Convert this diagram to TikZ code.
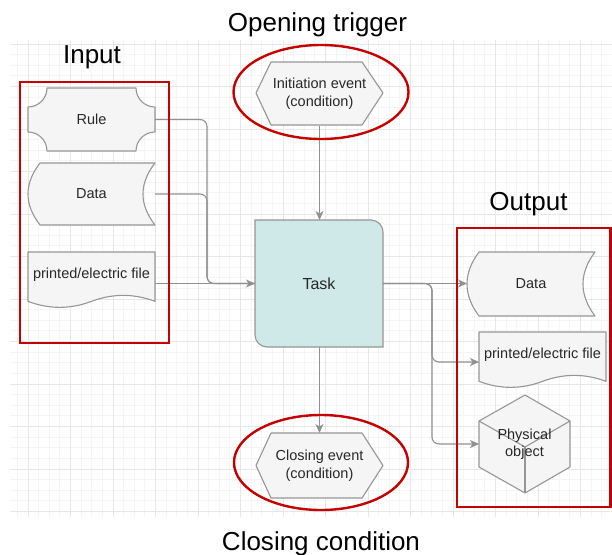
\documentclass[tikz,border=0pt]{standalone}
\usepackage{fontspec}
\setmainfont{Liberation Sans}
\usetikzlibrary{arrows.meta,calc}

\definecolor{gridminor}{RGB}{245,245,245}
\definecolor{gridmajor}{RGB}{231,231,231}
\definecolor{shapefill}{RGB}{245,245,245}
\definecolor{shapeline}{RGB}{150,150,150}
\definecolor{linkgray}{RGB}{145,145,145}
\definecolor{taskfill}{RGB}{207,232,232}
\definecolor{markred}{RGB}{196,0,0}
\definecolor{textgray}{RGB}{40,40,40}

\tikzset{
  outline/.style={draw=shapeline, fill=shapefill, line width=1.1pt, line join=round},
  lbl/.style={inner sep=0pt, outer sep=0pt, align=center, text=textgray,
    font=\fontsize{14.5}{18}\selectfont},
  plainlink/.style={draw=linkgray, line width=1.1pt, rounded corners=7pt},
  link/.style={plainlink, -{Stealth[length=9pt,width=8pt,inset=2.5pt]}},
  redmark/.style={draw=markred, line width=2.4pt},
  title/.style={font=\fontsize{26}{30}\selectfont, inner sep=0pt, anchor=base, text=black},
  gridthin/.style={draw=gridminor, line width=0.8pt},
  gridthick/.style={draw=gridmajor, line width=0.8pt}
}

\begin{document}
\begin{tikzpicture}[x=1pt, y=-1pt]
\useasboundingbox (0,0) rectangle (612,554);
\fill[white] (0,0) rectangle (612,554);

% background grid
\foreach \n in {-1,...,54} {
  \pgfmathsetmacro\gx{28+10.625*\n}
  \draw[gridthin] (\gx,40) -- (\gx,517);
}
\foreach \n in {-40,...,4} {
  \pgfmathsetmacro\gy{469+10.625*\n}
  \draw[gridthin] (10,\gy) -- (612,\gy);
}
\foreach \n in {0,...,13} {
  \pgfmathsetmacro\gx{28+42.5*\n}
  \draw[gridthick] (\gx,40) -- (\gx,517);
}
\foreach \n in {-10,...,1} {
  \pgfmathsetmacro\gy{469+42.5*\n}
  \draw[gridthick] (10,\gy) -- (612,\gy);
}

% input shapes
\draw[outline] (47,88) -- (136,88) .. controls (136,98.5) and (144.5,107) .. (155,107)
  -- (155,132) .. controls (144.5,132) and (136,140.5) .. (136,151)
  -- (47,151) .. controls (47,140.5) and (38.5,132) .. (28,132)
  -- (28,107) .. controls (38.5,107) and (47,98.5) .. (47,88) -- cycle;
\draw[outline] (40,163) -- (155,163) .. controls (139,183.7) and (139,204.3) .. (155,225)
  -- (40,225) .. controls (24,204.3) and (24,183.7) .. (40,163) -- cycle;
\draw[outline] (28,252) -- (155,252) -- (155,301.35)
  .. controls (133.83,293.38) and (112.67,293.38) .. (91.5,301.35)
  .. controls (70.33,309.33) and (49.17,309.33) .. (28,301.35) -- cycle;

% task
\draw[draw=shapeline, fill=taskfill, line width=1.1pt]
  (255,220) -- (371,220) .. controls (377.6,220) and (383,225.4) .. (383,232)
  -- (383,347) -- (267,347) .. controls (260.4,347) and (255,341.6) .. (255,335) -- cycle;

% trigger and closing events
\draw[outline] (256,93) -- (271,62) -- (362,62) -- (383,93) -- (362,125) -- (271,125) -- cycle;
\draw[outline] (256,465.5) -- (271,433) -- (362,433) -- (383,465.5) -- (362,498) -- (271,498) -- cycle;

% output shapes
\draw[outline] (479,252) -- (595,252) .. controls (579,273.3) and (579,294.7) .. (595,316)
  -- (479,316) .. controls (463,294.7) and (463,273.3) .. (479,252) -- cycle;
\draw[outline] (479,332) -- (606,332) -- (606,381.35)
  .. controls (584.83,373.38) and (563.67,373.38) .. (542.5,381.35)
  .. controls (521.33,389.33) and (500.17,389.33) .. (479,381.35) -- cycle;
\draw[outline] (525,395) -- (570,421) -- (570,467) -- (525,493) -- (479,467) -- (479,421) -- cycle;
\draw[draw=shapeline, line width=1.1pt, line join=round] (479,421) -- (525,447) -- (570,421);
\draw[draw=shapeline, line width=1.1pt] (525,447) -- (525,493);

% labelled nodes
\node[lbl, minimum width=127pt, minimum height=63pt] (rule) at (91.5,119.5) {Rule};
\node[lbl, minimum width=127pt, minimum height=62pt] (idata) at (91.5,194) {Data};
\node[lbl, minimum width=127pt, minimum height=46pt] (ifile) at (91.5,275) {printed/electric file};
\node[lbl, minimum width=128pt, minimum height=127pt, font=\fontsize{16}{19}\selectfont] (task) at (319,283.5) {Task};
\node[lbl, minimum width=127pt, minimum height=64pt] (init) at (319.5,93.5) {Initiation event\\(condition)};
\node[lbl, minimum width=127pt, minimum height=65pt] (close) at (319.5,465.5) {Closing event\\(condition)};
\node[lbl, minimum width=128pt, minimum height=64pt] (odata) at (531,283.5) {Data};
\node[lbl, minimum width=127pt, minimum height=46pt] (ofile) at (542.5,355) {printed/electric file};
\node[lbl, minimum width=91pt, minimum height=98pt, font=\fontsize{14.5}{17}\selectfont] (cube) at (524.5,444) {Physical\\object};

% connectors
\coordinate (jin) at (207,283.5);
\coordinate (jout) at (432,283.5);
\draw[plainlink] (rule.east) -| (jin) -- (task.west);
\draw[plainlink] (idata.east) -| (jin) -- (task.west);
\draw[link] (ifile.east |- task.west) -- (task.west);
\draw[link] (init.south) -- (init.south |- task.north);
\draw[link] (close.north |- task.south) -- (close.north);
\draw[link] (task.east) -- (odata.west);
\draw[link] (task.east) -- (jout) |- ($(ofile.west)+(0,7)$);
\draw[link] (task.east) -- (jout) |- (cube.west);

% highlight frames
\draw[redmark] (20,82) rectangle (169,343);
\draw[redmark] (457,228) rectangle (610.5,507);
\draw[redmark] (321,92) ellipse [x radius=87.5pt, y radius=47pt];
\draw[redmark] (321,462.5) ellipse [x radius=87pt, y radius=47.5pt];

% titles
\node[title] (tinput) at (92,63) {Input};
\node[title] (toutput) at (528.5,210) {Output};
\node[title] (topen) at (317.5,31) {Opening trigger};
\node[title] (tclose) at (321,550) {Closing condition};
\end{tikzpicture}
\end{document}
